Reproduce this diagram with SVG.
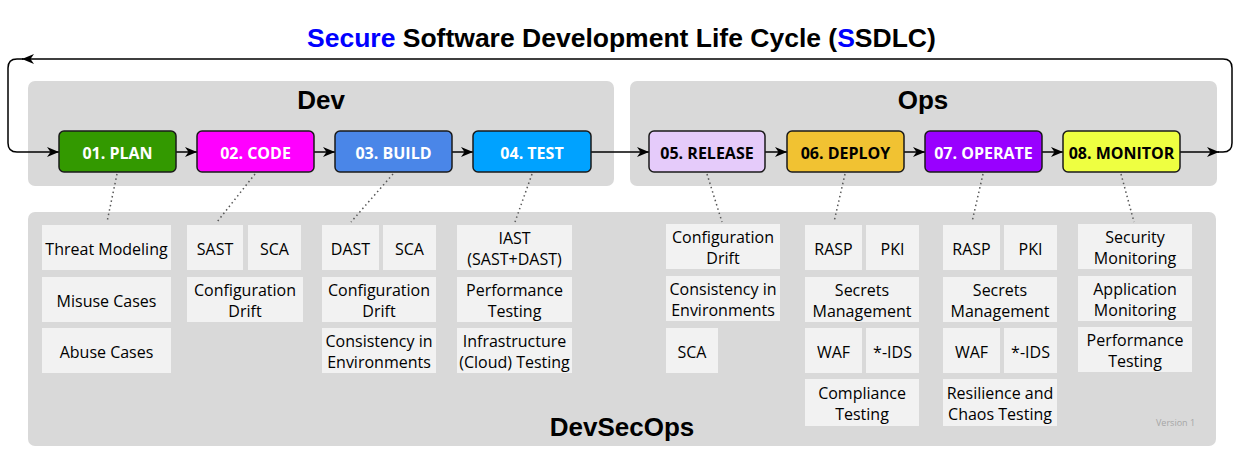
<svg xmlns="http://www.w3.org/2000/svg" width="1239" height="456" viewBox="0 0 1239 456">
<defs>
<marker id="ah" markerUnits="userSpaceOnUse" markerWidth="14" markerHeight="12" refX="12" refY="5" orient="auto" overflow="visible">
<path d="M0,0 L12,5 L0,10 L3.5,5 Z" fill="#000"/>
</marker>
<style>
.title{font-family:"Liberation Sans",Arial,sans-serif;font-weight:bold;font-size:26.5px;fill:#000}
.panel{fill:#d9d9d9}
.plabel{font-family:"Liberation Sans",Arial,sans-serif;font-weight:bold;font-size:26px;fill:#000;text-anchor:middle}
.stage rect{stroke:#1a1a1a;stroke-width:1.5}
.stage text{font-family:"Open Sans","Noto Sans",sans-serif;font-weight:bold;font-size:16px;text-anchor:middle}
.item rect{fill:#f2f2f2}
.item text{font-family:"Open Sans","Noto Sans",sans-serif;font-size:16px;fill:#000;text-anchor:middle}
.flow{fill:none;stroke:#000;stroke-width:1.5}
.dot{fill:none;stroke:#555;stroke-width:1.5;stroke-dasharray:1.5 3}
.ver{font-family:"Open Sans","Noto Sans",sans-serif;font-size:9px;fill:#a6a6a6}
</style>
</defs>
<rect width="1239" height="456" fill="#fff"/>
<text class="title" x="307" y="47"><tspan fill="#0000ff">Secure</tspan> Software Development Life Cycle (<tspan fill="#0000ff">S</tspan>SDLC)</text>

<g id="panel-dev"><rect class="panel" x="28" y="81" width="586" height="105" rx="7"/><text class="plabel" x="321" y="109">Dev</text></g>
<g id="panel-ops"><rect class="panel" x="630" y="81" width="587" height="105" rx="7"/><text class="plabel" x="923" y="109">Ops</text></g>
<g id="panel-devsecops"><rect class="panel" x="28" y="212" width="1188" height="234" rx="7"/><text class="plabel" x="622" y="436">DevSecOps</text><text class="ver" x="1156" y="426">Version 1</text></g>

<g id="connectors">
<path class="flow" d="M176,152 H197" marker-end="url(#ah)"/>
<path class="flow" d="M314,152 H335" marker-end="url(#ah)"/>
<path class="flow" d="M452,152 H473" marker-end="url(#ah)"/>
<path class="flow" d="M591,152 H649" marker-end="url(#ah)"/>
<path class="flow" d="M765,152 H787" marker-end="url(#ah)"/>
<path class="flow" d="M904,152 H925" marker-end="url(#ah)"/>
<path class="flow" d="M1042,152 H1063" marker-end="url(#ah)"/>
<path class="flow" d="M1180,152 H1219" marker-end="url(#ah)"/>
<path class="flow" d="M1218,152 H1223 Q1232,152 1232,143 V68 Q1232,59 1223,59 H22" marker-end="url(#ah)"/>
<path class="flow" d="M23,59 H17 Q8,59 8,68 V143 Q8,152 17,152 H59" marker-end="url(#ah)"/>
<path class="dot" d="M117,174 L107,222"/>
<path class="dot" d="M255,174 L217,222"/>
<path class="dot" d="M393,174 L351,222"/>
<path class="dot" d="M532,174 L515,222"/>
<path class="dot" d="M707,174 L722,222"/>
<path class="dot" d="M845,174 L834,222"/>
<path class="dot" d="M983,174 L972,222"/>
<path class="dot" d="M1121,174 L1134,222"/>
</g>

<g id="stage-plan" class="stage"><rect x="59" y="131" width="117" height="41" rx="5" fill="#339900"/><text x="117.5" y="159" fill="#fff">01. PLAN</text></g>
<g id="stage-code" class="stage"><rect x="197" y="131" width="117" height="41" rx="5" fill="#ff00ff"/><text x="255.5" y="159" fill="#fff">02. CODE</text></g>
<g id="stage-build" class="stage"><rect x="335" y="131" width="117" height="41" rx="5" fill="#4a86e8"/><text x="393.5" y="159" fill="#fff">03. BUILD</text></g>
<g id="stage-test" class="stage"><rect x="473" y="131" width="118" height="41" rx="5" fill="#00a2ff"/><text x="532" y="159" fill="#fff">04. TEST</text></g>
<g id="stage-release" class="stage"><rect x="649" y="131" width="116" height="41" rx="5" fill="#e5cbfa"/><text x="707" y="159" fill="#000">05. RELEASE</text></g>
<g id="stage-deploy" class="stage"><rect x="787" y="131" width="117" height="41" rx="5" fill="#f1c232"/><text x="845.5" y="159" fill="#000">06. DEPLOY</text></g>
<g id="stage-operate" class="stage"><rect x="925" y="131" width="117" height="41" rx="5" fill="#9900ff"/><text x="983.5" y="159" fill="#fff">07. OPERATE</text></g>
<g id="stage-monitor" class="stage"><rect x="1063" y="131" width="117" height="41" rx="5" fill="#eeff41"/><text x="1121.5" y="159" fill="#000">08. MONITOR</text></g>

<g id="plan-threat" class="item"><rect x="42" y="225" width="129" height="45"/><text x="106.5" y="254.5">Threat Modeling</text></g>
<g id="plan-misuse" class="item"><rect x="42" y="277" width="129" height="45"/><text x="106.5" y="306.5">Misuse Cases</text></g>
<g id="plan-abuse" class="item"><rect x="42" y="328" width="129" height="45"/><text x="106.5" y="357.5">Abuse Cases</text></g>

<g id="code-sast" class="item"><rect x="187" y="225" width="56" height="45"/><text x="215" y="254.5">SAST</text></g>
<g id="code-sca" class="item"><rect x="248" y="225" width="53" height="45"/><text x="274.5" y="254.5">SCA</text></g>
<g id="code-drift" class="item"><rect x="187" y="277" width="116" height="45"/><text x="245" y="295.5">Configuration</text><text x="245" y="316.5">Drift</text></g>

<g id="build-dast" class="item"><rect x="322" y="225" width="57" height="45"/><text x="350.5" y="254.5">DAST</text></g>
<g id="build-sca" class="item"><rect x="383" y="225" width="53" height="45"/><text x="409.5" y="254.5">SCA</text></g>
<g id="build-drift" class="item"><rect x="322" y="277" width="114" height="45"/><text x="379" y="295.5">Configuration</text><text x="379" y="316.5">Drift</text></g>
<g id="build-consistency" class="item"><rect x="322" y="328" width="114" height="45"/><text x="379" y="346.5">Consistency in</text><text x="379" y="367.5">Environments</text></g>

<g id="test-iast" class="item"><rect x="457" y="225" width="115" height="45"/><text x="514.5" y="243.5">IAST</text><text x="514.5" y="264.5">(SAST+DAST)</text></g>
<g id="test-perf" class="item"><rect x="457" y="277" width="115" height="45"/><text x="514.5" y="295.5">Performance</text><text x="514.5" y="316.5">Testing</text></g>
<g id="test-infra" class="item"><rect x="457" y="328" width="115" height="45"/><text x="514.5" y="346.5">Infrastructure</text><text x="514.5" y="367.5">(Cloud) Testing</text></g>

<g id="release-drift" class="item"><rect x="666" y="224" width="114" height="45"/><text x="723" y="242.5">Configuration</text><text x="723" y="263.5">Drift</text></g>
<g id="release-consistency" class="item"><rect x="666" y="276" width="114" height="45"/><text x="723" y="294.5">Consistency in</text><text x="723" y="315.5">Environments</text></g>
<g id="release-sca" class="item"><rect x="666" y="328" width="52" height="45"/><text x="692" y="357.5">SCA</text></g>

<g id="deploy-rasp" class="item"><rect x="805" y="225" width="57" height="45"/><text x="833.5" y="254.5">RASP</text></g>
<g id="deploy-pki" class="item"><rect x="866" y="225" width="53" height="45"/><text x="892.5" y="254.5">PKI</text></g>
<g id="deploy-secrets" class="item"><rect x="805" y="277" width="114" height="45"/><text x="862" y="295.5">Secrets</text><text x="862" y="316.5">Management</text></g>
<g id="deploy-waf" class="item"><rect x="805" y="328" width="57" height="45"/><text x="833.5" y="357.5">WAF</text></g>
<g id="deploy-ids" class="item"><rect x="866" y="328" width="53" height="45"/><text x="892.5" y="357.5">*-IDS</text></g>
<g id="deploy-compliance" class="item"><rect x="805" y="379" width="114" height="47"/><text x="862" y="398.5">Compliance</text><text x="862" y="419.5">Testing</text></g>

<g id="operate-rasp" class="item"><rect x="943" y="225" width="57" height="45"/><text x="971.5" y="254.5">RASP</text></g>
<g id="operate-pki" class="item"><rect x="1004" y="225" width="53" height="45"/><text x="1030.5" y="254.5">PKI</text></g>
<g id="operate-secrets" class="item"><rect x="943" y="277" width="114" height="45"/><text x="1000" y="295.5">Secrets</text><text x="1000" y="316.5">Management</text></g>
<g id="operate-waf" class="item"><rect x="943" y="328" width="57" height="45"/><text x="971.5" y="357.5">WAF</text></g>
<g id="operate-ids" class="item"><rect x="1004" y="328" width="53" height="45"/><text x="1030.5" y="357.5">*-IDS</text></g>
<g id="operate-resilience" class="item"><rect x="943" y="379" width="114" height="47"/><text x="1000" y="398.5">Resilience and</text><text x="1000" y="419.5">Chaos Testing</text></g>

<g id="monitor-security" class="item"><rect x="1078" y="224" width="114" height="45"/><text x="1135" y="242.5">Security</text><text x="1135" y="263.5">Monitoring</text></g>
<g id="monitor-app" class="item"><rect x="1078" y="276" width="114" height="45"/><text x="1135" y="294.5">Application</text><text x="1135" y="315.5">Monitoring</text></g>
<g id="monitor-perf" class="item"><rect x="1078" y="327" width="114" height="45"/><text x="1135" y="345.5">Performance</text><text x="1135" y="366.5">Testing</text></g>
</svg>
